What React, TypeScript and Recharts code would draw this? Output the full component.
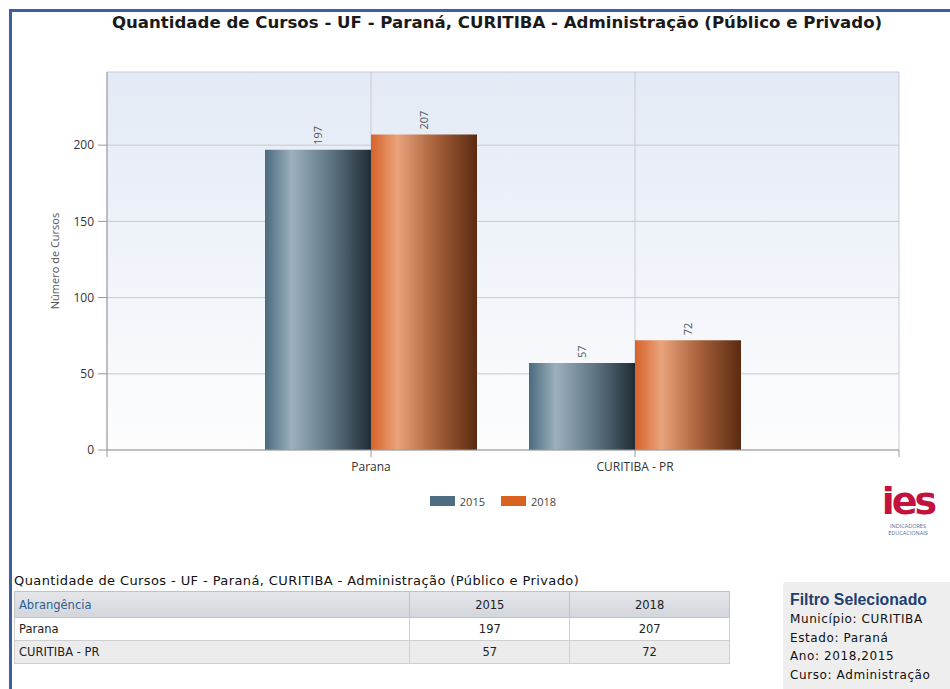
import React from "react";
import { BarChart, Bar, XAxis, YAxis, CartesianGrid, Legend, LabelList, Label } from "recharts";

const categories = ["Parana", "CURITIBA - PR"];
const years = ["2015", "2018"];
const cursos2015 = [197, 57];
const cursos2018 = [207, 72];
const yTicks = [0, 50, 100, 150, 200];

const title = "Quantidade de Cursos - UF - Paraná, CURITIBA - Administração (Público e Privado)";
const filtroLinhas = ["Município: CURITIBA", "Estado: Paraná", "Ano: 2018,2015", "Curso: Administração"];

// numeric x position so ticks fall on 0..3 like the original (categories sit on 1 and 2)
const chartData = categories.map((name, i) => ({
  pos: i + 1,
  name,
  v2015: cursos2015[i],
  v2018: cursos2018[i],
}));

const chartFont = "'Open Sans', 'DejaVu Sans', sans-serif";
const tableFont = "'DejaVu Sans', sans-serif";

function RotatedValue(props: any) {
  const { x, y, width, value } = props;
  const cx = x + width / 2;
  const cy = y - 5;
  return (
    <text
      x={cx}
      y={cy}
      transform={`rotate(-90, ${cx}, ${cy})`}
      textAnchor="start"
      dominantBaseline="central"
      fontSize={11}
      fontFamily={chartFont}
      fill="#555"
    >
      {value}
    </text>
  );
}

function LegendBox() {
  const colors = ["#4f6d80", "#d9621e"];
  return (
    <div style={{ display: "flex", justifyContent: "center", paddingLeft: 52, height: 22, alignItems: "center" }}>
      {years.map((y, i) => (
        <div key={y} style={{ display: "flex", alignItems: "center", marginRight: 16 }}>
          <span style={{ display: "inline-block", width: 25, height: 10, background: colors[i], marginRight: 5 }} />
          <span style={{ fontFamily: chartFont, fontSize: 11, color: "#444" }}>{y}</span>
        </div>
      ))}
    </div>
  );
}

export default function App() {
  return (
    <div style={{ position: "absolute", left: 0, top: 0, width: 950, height: 689, overflow: "hidden", background: "#fff" }}>
      {/* blue frame */}
      <div
        style={{
          position: "absolute",
          left: 9,
          top: 9,
          width: 960,
          height: 700,
          borderLeft: "3px solid #3d5ea0",
          borderTop: "3px solid #3d5ea0",
        }}
      />
      <div
        style={{
          position: "absolute",
          left: 12,
          top: 12,
          width: 970,
          textAlign: "center",
          fontFamily: "'DejaVu Sans', sans-serif",
          fontWeight: "bold",
          fontSize: 16.6,
          color: "#1a1a1a",
          lineHeight: "22px",
        }}
      >
        {title}
      </div>

      <div style={{ position: "absolute", left: 0, top: 0 }}>
        <BarChart width={950} height={520} data={chartData} margin={{ top: 72, right: 51, left: 0, bottom: 8 }} barGap={0}>
          <defs>
            <linearGradient id="plotBg" x1="0" y1="0" x2="0" y2="1">
              <stop offset="0%" stopColor="#e3eaf5" />
              <stop offset="100%" stopColor="#fdfdfe" />
            </linearGradient>
            <linearGradient id="g2015" x1="0" y1="0" x2="1" y2="0">
              <stop offset="0%" stopColor="#4a6a7e" />
              <stop offset="25%" stopColor="#9cb0bd" />
              <stop offset="60%" stopColor="#627886" />
              <stop offset="100%" stopColor="#1f2c35" />
            </linearGradient>
            <linearGradient id="g2018" x1="0" y1="0" x2="1" y2="0">
              <stop offset="0%" stopColor="#d8622a" />
              <stop offset="25%" stopColor="#e9a47c" />
              <stop offset="60%" stopColor="#a9623c" />
              <stop offset="100%" stopColor="#5a2a10" />
            </linearGradient>
          </defs>
          <CartesianGrid stroke="#c6cad2" fill="url(#plotBg)" />
          <XAxis
            type="number"
            dataKey="pos"
            domain={[0, 3]}
            ticks={[0, 1, 2, 3]}
            tickFormatter={(v: number) => categories[v - 1] ?? ""}
            height={40}
            stroke="#9a9a9a"
            tickSize={7}
            tickMargin={5}
            tick={{ fontSize: 12, fontFamily: chartFont, fill: "#333" }}
          />
          <YAxis
            domain={[0, 248]}
            ticks={yTicks}
            width={107}
            stroke="#9a9a9a"
            tickSize={9}
            tickMargin={4}
            tick={{ fontSize: 12, fontFamily: chartFont, fill: "#333" }}
          >
            <Label
              value="Número de Cursos"
              angle={-90}
              position="center"
              dx={2}
              style={{ fontSize: 11, fontFamily: chartFont, fill: "#555", textAnchor: "middle" }}
            />
          </YAxis>
          <Legend verticalAlign="bottom" content={<LegendBox />} wrapperStyle={{ left: 0, width: 950 }} />
          <Bar dataKey="v2015" name="2015" fill="url(#g2015)" barSize={106} isAnimationActive={false}>
            <LabelList dataKey="v2015" content={<RotatedValue />} />
          </Bar>
          <Bar dataKey="v2018" name="2018" fill="url(#g2018)" barSize={106} isAnimationActive={false}>
            <LabelList dataKey="v2018" content={<RotatedValue />} />
          </Bar>
        </BarChart>
      </div>

      {/* logo */}
      <div
        style={{
          position: "absolute",
          left: 875,
          top: 479,
          width: 66,
          textAlign: "center",
          fontFamily: "'DejaVu Sans', sans-serif",
          fontWeight: "bold",
          fontSize: 38,
          color: "#c4123f",
          letterSpacing: -3,
          lineHeight: "normal",
        }}
      >
        ies
      </div>
      <div
        style={{
          position: "absolute",
          left: 875,
          top: 523,
          width: 66,
          textAlign: "center",
          fontFamily: chartFont,
          fontSize: 5.5,
          color: "#54708f",
          lineHeight: "6.5px",
        }}
      >
        INDICADORES
        <br />
        EDUCACIONAIS
      </div>

      {/* data table */}
      <div
        style={{
          position: "absolute",
          left: 14,
          top: 573,
          fontFamily: tableFont,
          fontSize: 13,
          letterSpacing: 0.4,
          color: "#111",
          whiteSpace: "nowrap",
        }}
      >
        {title}
      </div>
      <table
        style={{
          position: "absolute",
          left: 14,
          top: 591,
          width: 716,
          borderCollapse: "collapse",
          fontFamily: tableFont,
          fontSize: 11.5,
          color: "#222",
        }}
      >
        <colgroup>
          <col style={{ width: 396 }} />
          <col style={{ width: 160 }} />
          <col style={{ width: 160 }} />
        </colgroup>
        <thead>
          <tr style={{ height: 26, background: "linear-gradient(#e4e6ea, #d2d5db)" }}>
            <th style={{ textAlign: "left", fontWeight: "normal", color: "#2d5f90", padding: "0 4px", border: "1px solid #bfc2c8" }}>
              Abrangência
            </th>
            {years.map((y) => (
              <th key={y} style={{ fontWeight: "normal", border: "1px solid #bfc2c8" }}>
                {y}
              </th>
            ))}
          </tr>
        </thead>
        <tbody>
          {categories.map((c, i) => (
            <tr key={c} style={{ height: 23, background: i === 1 ? "#ececec" : "#fff" }}>
              <td style={{ padding: "0 4px", border: "1px solid #cfcfcf" }}>{c}</td>
              <td style={{ textAlign: "center", border: "1px solid #cfcfcf" }}>{cursos2015[i]}</td>
              <td style={{ textAlign: "center", border: "1px solid #cfcfcf" }}>{cursos2018[i]}</td>
            </tr>
          ))}
        </tbody>
      </table>

      {/* filter box */}
      <div
        style={{
          position: "absolute",
          left: 783,
          top: 582,
          width: 175,
          height: 120,
          background: "#eeeeee",
          borderRadius: 3,
          padding: "8px 0 0 7px",
          boxSizing: "border-box",
        }}
      >
        <div style={{ fontFamily: "'Liberation Sans', Arial, sans-serif", fontWeight: "bold", fontSize: 15.8, color: "#1f3f70", lineHeight: "20px" }}>
          Filtro Selecionado
        </div>
        {filtroLinhas.map((l) => (
          <div key={l} style={{ fontFamily: tableFont, fontSize: 12, letterSpacing: 0.6, color: "#111", lineHeight: "18.5px" }}>
            {l}
          </div>
        ))}
      </div>
    </div>
  );
}
